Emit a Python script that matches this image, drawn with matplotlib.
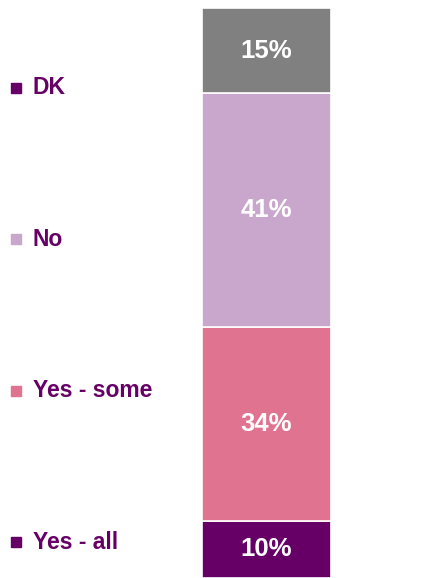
import matplotlib.pyplot as plt

# Stacked shares, bottom to top
categories = ["Yes - all", "Yes - some", "No", "DK"]
values = [10, 34, 41, 15]
colors = ["#660066", "#E07490", "#C9A6CB", "#808080"]
legend_marker_colors = ["#660066", "#E07490", "#C9A6CB", "#660066"]
text_color = "#660066"

plt.rcParams['font.family'] = ['Liberation Sans', 'DejaVu Sans']

fig = plt.figure(figsize=(4.43, 5.78), dpi=100)
ax = fig.add_axes([0, 0, 1, 1])

bottom = 0
for cat, val, col in zip(categories, values, colors):
    ax.bar(0, val, width=1, bottom=bottom, color=col, edgecolor="white", linewidth=1.2)
    ax.text(0, bottom + val / 2, f"{val}%", ha="center", va="center",
            color="white", fontsize=18.5, fontweight="bold")
    bottom += val

ax.set_xlim(-2.066, 1.368)
ax.set_ylim(0, 101.4)
ax.axis("off")

# Legend entries down the left side
legend_y = [0.062, 0.324, 0.586, 0.848]
for cat, col, y in zip(categories, legend_marker_colors, legend_y):
    fig.text(0.074, y, cat, ha="left", va="center", color=text_color,
             fontsize=16.5, fontweight="bold")
    ax.plot([0.036], [y], marker="s", markersize=6.5, color=col,
            transform=fig.transFigure, clip_on=False)

fig.savefig("out.png", dpi=100)
